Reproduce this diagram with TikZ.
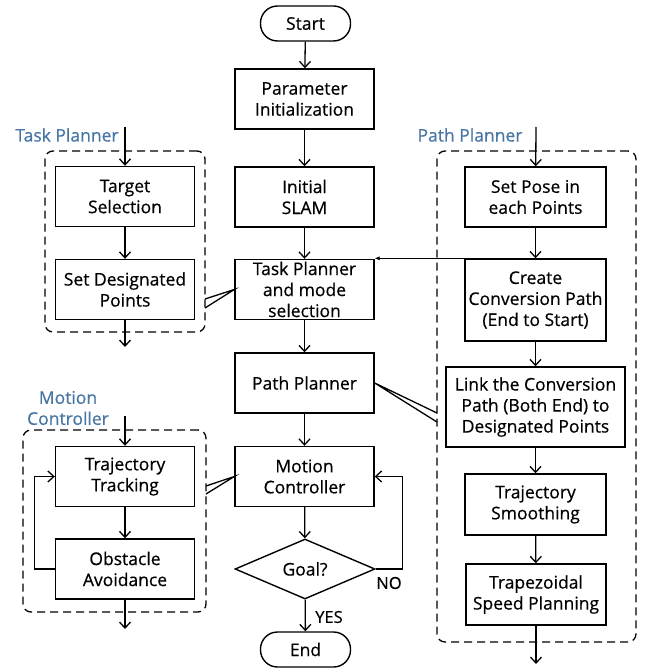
\documentclass[tikz,border=0pt]{standalone}
\usepackage{fontspec}
\setmainfont{Open Sans}[FakeBold=0.5]
\usetikzlibrary{arrows.meta,shapes.geometric}

\definecolor{tagblue}{RGB}{72,118,164}

\tikzset{
  box/.style={draw, line width=1.4pt, minimum width=139pt, minimum height=60pt,
    align=center, inner sep=1pt, font=\fontsize{17.5}{21}\selectfont},
  term/.style={draw, line width=1.4pt, rounded corners=17pt, minimum width=90pt,
    minimum height=35pt, font=\fontsize{17.5}{21}\selectfont},
  decide/.style={draw, diamond, line width=1.4pt, minimum width=140pt,
    minimum height=60pt, inner sep=0pt, font=\fontsize{17.5}{21}\selectfont},
  group/.style={draw, line width=1.3pt, dash pattern=on 8pt off 5pt, rounded corners=8pt},
  tag/.style={text=tagblue, align=center, font=\fontsize{17.5}{21}\selectfont},
  flow/.style={line width=1.3pt, -{Straight Barb[length=6pt,width=11pt]}},
  callout/.style={line width=1.3pt},
}

\begin{document}
\begin{tikzpicture}[x=1pt, y=-1pt]
\useasboundingbox (0,0) rectangle (651,668);

% Main flow
\node[term] (start) at (305.5,23.5) {Start};
\node[box] (param) at (304.5,99) {Parameter\\Initialization};
\node[box] (slam) at (304.5,197) {Initial\\SLAM};
\node[box, inner ysep=-4pt] (task) at (304.5,289.5) {Task Planner\\and mode\\selection};
\node[box] (pathp) at (304.5,383) {Path Planner};
\node[box] (motion) at (304.5,476.5) {Motion\\Controller};
\node[decide] (goal) at (305,569) {Goal?};
\node[term] (finish) at (305.5,649.5) {End};

\draw[flow] (start) -- (param);
\draw[flow] (param) -- (slam);
\draw[flow] (slam) -- (task);
\draw[flow] (task) -- (pathp);
\draw[flow] (pathp) -- (motion);
\draw[flow] (motion) -- (goal);
\draw[flow] (goal) -- (finish);
\draw[flow] (goal.east) -- ++(27,0) |- (motion.east);
\node[font=\fontsize{16.5}{20}\selectfont] (yes) at (329,617) {YES};
\node[font=\fontsize{16.5}{20}\selectfont] (no) at (389,583) {NO};

% Task Planner group
\node[group, minimum width=160pt, minimum height=181pt] (tpgrp) at (125,241.5) {};
\node[tag] (tptag) at (67,135) {Task Planner};
\node[box] (target) at (125,196.5) {Target\\Selection};
\node[box] (setpts) at (125,289.5) {Set Designated\\Points};
\coordinate (tpin) at (125,127);
\coordinate (tpout) at (125,347);
\draw[flow] (tpin) -- (target);
\draw[flow] (target) -- (setpts);
\draw[flow] (setpts) -- (tpout);
\coordinate (tpa) at (205,299);
\coordinate (tpb) at (205,308);
\draw[callout] (tpa) -- (task.west) -- (tpb);

% Motion Controller group
\node[group, minimum width=183pt, minimum height=182pt] (mcgrp) at (114.5,521) {};
\node[tag] (mctag) at (68,408) {Motion\\Controller};
\node[box] (track) at (125,476.5) {Trajectory\\Tracking};
\node[box] (obst) at (125,569) {Obstacle\\Avoidance};
\coordinate (mcin) at (125,416);
\coordinate (mcout) at (125,629);
\draw[flow] (mcin) -- (track);
\draw[flow] (track) -- (obst);
\draw[flow] (obst) -- (mcout);
\draw[flow] (obst.west) -- ++(-20,0) |- (track.west);
\coordinate (mca) at (206,486);
\coordinate (mcb) at (206,494);
\draw[callout] (mca) -- (motion.west) -- (mcb);

% Path Planner group
\node[group, minimum width=199pt, minimum height=491pt] (ppgrp) at (536.5,396.5) {};
\node[tag] (pptag) at (470,135) {Path Planner};
\node[box, minimum width=141pt] (pose) at (535.5,197) {Set Pose in\\each Points};
\node[box, minimum width=141pt, minimum height=82pt] (conv) at (535.5,300) {Create\\Conversion Path\\(End to Start)};
\node[box, minimum width=179pt, minimum height=80pt] (link) at (535.5,407) {Link the Conversion\\Path (Both End) to\\Designated Points};
\node[box, minimum width=141pt, minimum height=61pt] (smooth) at (535.5,504.5) {Trajectory\\Smoothing};
\node[box, minimum width=140pt, minimum height=61pt] (trap) at (536,594.5) {Trapezoidal\\Speed Planning};
\coordinate (ppin) at (536,127);
\coordinate (ppout) at (536,664);
\draw[flow] (ppin) -- (pose);
\draw[flow] (pose) -- (conv);
\draw[flow] (conv) -- (link);
\draw[flow] (link) -- (smooth);
\draw[flow] (smooth) -- (trap);
\draw[flow] (trap) -- (ppout);
\draw[line width=0.6pt, -{Latex[length=5pt,width=4pt]}] (conv.north west) -- (conv.north west -| task.east);
\coordinate (ppa) at (437,413);
\coordinate (ppb) at (437,422);
\draw[callout] (ppa) -- (pathp.east) -- (ppb);

\end{tikzpicture}
\end{document}
